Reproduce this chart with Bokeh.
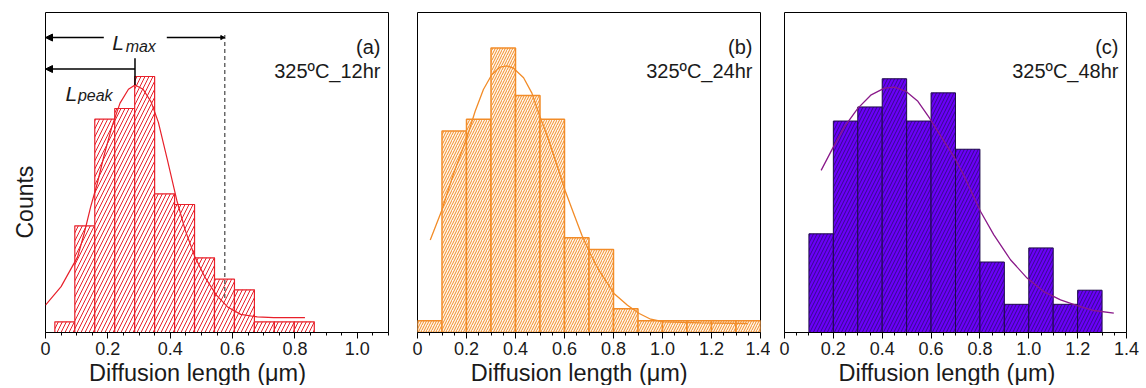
from bokeh.plotting import figure
from bokeh.layouts import row
from bokeh.models import (Range1d, FixedTicker, PrintfTickFormatter, Label, Arrow, NormalHead, Title)
from bokeh.embed import file_html
from bokeh.resources import INLINE

FONT = "Liberation Sans"

# ---------------- data ----------------
# (a) 325C 12hr
a_centers = [0.062, 0.126, 0.190, 0.254, 0.318, 0.382, 0.446, 0.510, 0.574, 0.638, 0.702, 0.766, 0.830]
a_width = 0.064
a_counts = [1, 10, 20, 21, 24, 13, 12, 7, 5, 4, 1, 1, 1]
a_fit_x = [0.0, 0.05, 0.103, 0.124, 0.145, 0.166, 0.187, 0.213, 0.239, 0.266, 0.287, 0.313, 0.339,
           0.362, 0.39, 0.421, 0.448, 0.479, 0.511, 0.548, 0.584, 0.626, 0.679, 0.732, 0.832]
a_fit_y = [2.56, 4.3, 7.09, 9.28, 11.8, 13.97, 16.5, 19.3, 21.5, 22.8, 23.2, 22.8, 21.6,
           19.7, 16.3, 12.4, 9.6, 7.1, 5.2, 3.5, 2.4, 1.7, 1.46, 1.4, 1.4]
a_lpeak = 0.287
a_lmax = 0.575

# (b) 325C 24hr
b_centers = [0.05, 0.15, 0.25, 0.35, 0.45, 0.55, 0.65, 0.75, 0.85, 0.95, 1.05, 1.15, 1.25, 1.35]
b_width = 0.1
b_counts = [1, 17, 18, 24, 20, 18, 8, 7, 2, 1, 1, 1, 1, 1]
b_fit_x = [0.052, 0.099, 0.147, 0.201, 0.235, 0.269, 0.303, 0.337, 0.365, 0.392, 0.433, 0.467, 0.5,
           0.535, 0.569, 0.602, 0.637, 0.671, 0.704, 0.739, 0.802, 0.857, 0.905, 0.952, 1.006, 1.156, 1.347]
b_fit_y = [7.8, 10.3, 13.4, 16.4, 18.65, 20.5, 21.75, 22.4, 22.5, 22.3, 21.5, 20.2, 18.2,
           16.25, 14.1, 12.0, 10.06, 8.2, 6.7, 5.3, 3.3, 2.3, 1.6, 1.12, 0.9, 0.81, 0.76]

# (c) 325C 48hr
c_centers = [0.15, 0.25, 0.35, 0.45, 0.55, 0.65, 0.75, 0.85, 0.95, 1.05, 1.15, 1.25]
c_width = 0.1
c_counts = [7, 15, 16, 18, 15, 17, 13, 5, 2, 6, 2, 3]
c_fit_x = [0.15, 0.198, 0.246, 0.3, 0.355, 0.409, 0.45, 0.498, 0.546, 0.594, 0.641, 0.696, 0.73,
           0.802, 0.857, 0.925, 0.993, 1.061, 1.13, 1.198, 1.266, 1.348]
c_fit_y = [11.5, 13.1, 14.6, 15.9, 16.86, 17.33, 17.4, 17.1, 16.4, 15.2, 13.9, 12.4, 11.3,
           8.6, 6.93, 5.16, 3.86, 2.9, 2.32, 1.9, 1.56, 1.37]

major_ticks = [0.0, 0.2, 0.4, 0.6, 0.8, 1.0, 1.2, 1.4]
minor_ticks = [0.05, 0.1, 0.15, 0.25, 0.3, 0.35, 0.45, 0.5, 0.55, 0.65, 0.7, 0.75, 0.85, 0.9, 0.95,
               1.05, 1.1, 1.15, 1.25, 1.3, 1.35]

panel_tags = ["(a)", "(b)", "(c)"]
panel_conds = ["325ºC_12hr", "325ºC_24hr", "325ºC_48hr"]
x_title = "Diffusion length (μm)"
y_title = "Counts"

FH = 320
TXT = "#1a1a1a"


def make_fig(xmax, ymax, left, right, fw):
    p = figure(frame_width=fw, frame_height=FH, min_border_left=left, min_border_right=right,
               min_border_top=12, min_border_bottom=10, x_range=Range1d(0, xmax),
               y_range=Range1d(0, ymax), y_axis_location=None, output_backend="svg",
               toolbar_location=None, tools="")
    p.grid.visible = False
    p.outline_line_color = "black"
    p.outline_line_alpha = 1
    p.outline_line_width = 1
    xa = p.xaxis[0]
    xa.ticker = FixedTicker(ticks=[t for t in major_ticks if t <= xmax + 1e-9],
                            minor_ticks=[t for t in minor_ticks if t <= xmax + 1e-9])
    xa.formatter = PrintfTickFormatter(format="%.1f")
    xa.major_label_overrides = {0: "0"}
    xa.major_tick_in = 0
    xa.major_tick_out = 6
    xa.minor_tick_in = 0
    xa.minor_tick_out = 3
    xa.axis_line_color = "black"
    xa.major_tick_line_color = "black"
    xa.minor_tick_line_color = "black"
    xa.major_label_text_font = FONT
    xa.major_label_text_font_size = "18px"
    xa.major_label_text_color = TXT
    xa.major_label_standoff = 3
    return p


def add_texts(p, fw, idx, xoff):
    p.add_layout(Label(x=fw - 8, y=FH - 34, x_units="screen", y_units="screen", text=panel_tags[idx],
                       text_align="right", text_baseline="alphabetic", text_font=FONT,
                       text_font_size="20px", text_color=TXT))
    p.add_layout(Label(x=fw - 8, y=FH - 58, x_units="screen", y_units="screen", text=panel_conds[idx],
                       text_align="right", text_baseline="alphabetic", text_font=FONT,
                       text_font_size="20px", text_color=TXT))
    p.add_layout(Title(text=x_title, align="left", offset=xoff, text_font=FONT,
                       text_font_size="23.5px", text_font_style="normal", text_color=TXT,
                       standoff=0), "below")


# ---------------- panel (a) ----------------
RED = "#e8202a"
pa = make_fig(1.1, 30, 45, 14, 343)
pa.vbar(x=a_centers, width=a_width, top=a_counts, bottom=0, fill_color="white", line_color=RED,
        line_width=1.2, hatch_pattern="/", hatch_color=RED, hatch_scale=8, hatch_weight=1)
pa.line(a_fit_x, a_fit_y, line_color=RED, line_width=1.2)
pa.segment(x0=[a_lmax], y0=[27.9], x1=[a_lmax], y1=[3.0], line_color="#444444", line_width=1.2,
           line_dash="4 3")
pa.add_layout(Arrow(end=NormalHead(size=7, fill_color="black", line_color="black"),
                    x_start=0.187, y_start=27.65, x_end=0.0, y_end=27.65, line_width=1.5))
pa.add_layout(Arrow(end=NormalHead(size=4, fill_color="black", line_color="black"),
                    x_start=0.389, y_start=27.65, x_end=a_lmax, y_end=27.65, line_width=1.5))
pa.add_layout(Arrow(end=NormalHead(size=7, fill_color="black", line_color="black"),
                    x_start=a_lpeak, y_start=24.7, x_end=0.0, y_end=24.7, line_width=1.5))
pa.segment(x0=[a_lpeak], y0=[25.7], x1=[a_lpeak], y1=[23.2], line_color="black", line_width=1.5)
pa.add_layout(Label(x=0.214, y=27.2, text="L", text_font=FONT, text_font_style="italic",
                    text_font_size="21px", text_color=TXT, text_baseline="alphabetic"))
pa.add_layout(Label(x=0.257, y=26.8, text="max", text_font=FONT, text_font_style="italic",
                    text_font_size="16px", text_color=TXT, text_baseline="alphabetic"))
pa.add_layout(Label(x=0.064, y=22.4, text="L", text_font=FONT, text_font_style="italic",
                    text_font_size="21px", text_color=TXT, text_baseline="alphabetic"))
pa.add_layout(Label(x=0.104, y=22.2, text="peak", text_font=FONT, text_font_style="italic",
                    text_font_size="16px", text_color=TXT, text_baseline="alphabetic"))
add_texts(pa, 343, 0, 43.6)
pa.add_layout(Title(text=y_title, align="left", offset=94, text_font=FONT,
                    text_font_size="23px", text_font_style="normal", text_color=TXT,
                    standoff=16), "left")

# ---------------- panel (b) ----------------
ORANGE = "#f28c28"
pb = make_fig(1.4, 27, 15, 10, 343)
pb.vbar(x=b_centers, width=b_width, top=b_counts, bottom=0, fill_color="#fff6ea", line_color=ORANGE,
        line_width=1.5, hatch_pattern="/", hatch_color=ORANGE, hatch_scale=5, hatch_weight=1)
pb.line(b_fit_x, b_fit_y, line_color=ORANGE, line_width=1.3)
add_texts(pb, 343, 1, 53.3)

# ---------------- panel (c) ----------------
PURPLE = "#6a00f8"
pc = make_fig(1.4, 22.7, 14, 20, 342)
pc.vbar(x=c_centers, width=c_width, top=c_counts, bottom=0, fill_color=PURPLE, line_color="#1e0a4a",
        line_width=1.0, hatch_pattern="/", hatch_color="#2a0a70", hatch_scale=7, hatch_weight=0.8)
pc.line(c_fit_x, c_fit_y, line_color="#8a1a8a", line_width=1.3)
add_texts(pc, 342, 2, 54.0)

layout = row(pa, pb, pc)
open("out.html", "w").write(file_html(layout, INLINE))
